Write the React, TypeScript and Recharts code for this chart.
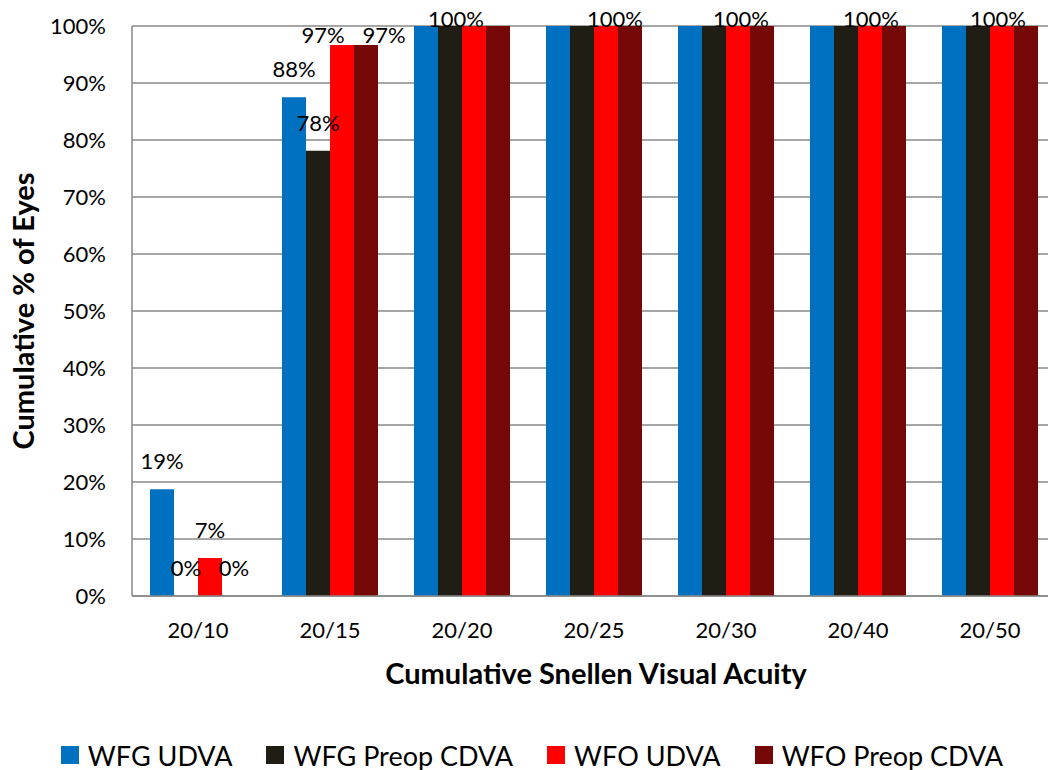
import React from "react";
import { Bar, BarChart, CartesianGrid, Label, Legend, XAxis, YAxis } from "recharts";

const categories = ["20/10", "20/15", "20/20", "20/25", "20/30", "20/40", "20/50"];
const wfgUdva = [18.75, 87.5, 100, 100, 100, 100, 100];
const wfgPreopCdva = [0, 78.1, 100, 100, 100, 100, 100];
const wfoUdva = [6.67, 96.67, 100, 100, 100, 100, 100];
const wfoPreopCdva = [0, 96.67, 100, 100, 100, 100, 100];
const yTicks = [0, 10, 20, 30, 40, 50, 60, 70, 80, 90, 100];

const seriesNames = ["WFG UDVA", "WFG Preop CDVA", "WFO UDVA", "WFO Preop CDVA"];
const seriesKeys = ["wfgUdva", "wfgPreopCdva", "wfoUdva", "wfoPreopCdva"];
const seriesValues = [wfgUdva, wfgPreopCdva, wfoUdva, wfoPreopCdva];
const colors = ["#0070C0", "#1F1D14", "#FF0000", "#760707"];

const data = categories.map((name, i) => ({
  name,
  wfgUdva: wfgUdva[i],
  wfgPreopCdva: wfgPreopCdva[i],
  wfoUdva: wfoUdva[i],
  wfoPreopCdva: wfoPreopCdva[i],
}));

const FONT = "Lato, 'Open Sans', sans-serif";

// hand-placed labels as in the original; the 100% ones are drawn once per group
const labelShift: Record<string, [number, number]> = {
  "2-1": [-19, -2],
  "3-1": [18, -2],
  "1-2": [-6, 1],
  "1-3": [21, 1],
  "1-4": [15, 1],
  "1-5": [13, 1],
  "1-6": [8, 1],
};

// all labels of a group are drawn from the red series, which has no zero bars
// (recharts drops labels of zero-height bars)
const groupLabels = (props: any) => {
  const { x, y, width, height, value, index } = props;
  const base = y + height;
  const pxPerUnit = height / value;
  return (
    <g>
      {seriesValues.map((vals, s) => {
        const v = vals[index];
        if (v >= 100 && s !== 1) return null;
        const top = base - v * pxPerUnit;
        let cx = x + (s - 2) * width + width / 2;
        let by = top - 20;
        if (v >= 100) cx = x + (s - 1) * width;
        const shift = labelShift[`${s}-${index}`];
        if (shift) {
          cx += shift[0];
          by = top + shift[1];
        }
        return (
          <text key={s} x={cx} y={by} textAnchor="middle" fontSize={22} fontFamily={FONT} fill="#000">
            {`${Math.round(v)}%`}
          </text>
        );
      })}
    </g>
  );
};

const renderLegend = () => (
  <div
    style={{
      display: "flex",
      justifyContent: "center",
      alignItems: "center",
      height: 34,
      fontFamily: FONT,
      fontSize: 27,
      color: "#000",
    }}
  >
    {seriesNames.map((n, i) => (
      <div key={n} style={{ display: "flex", alignItems: "center", marginRight: i < 3 ? 34 : 0 }}>
        <span style={{ width: 18, height: 18, background: colors[i], marginRight: 9, display: "inline-block" }} />
        <span>{n}</span>
      </div>
    ))}
  </div>
);

export default function App() {
  return (
    <div style={{ position: "absolute", left: 0, top: 0, width: 1048, height: 770, overflow: "hidden", background: "#fff" }}>
      <BarChart
        width={1064}
        height={770}
        data={data}
        margin={{ top: 26, right: 8, left: 0, bottom: 40 }}
        barGap={0}
        barSize={24}
      >
        <CartesianGrid vertical={false} stroke="#898989" strokeWidth={1.5} />
        <XAxis
          dataKey="name"
          height={100}
          tickLine={false}
          tickSize={0}
          tickMargin={26}
          axisLine={{ stroke: "#898989", strokeWidth: 1.5 }}
          tick={{ fontSize: 22, fontFamily: FONT, fill: "#000" }}
        >
          <Label
            content={(p: any) => {
              const vb = p.viewBox;
              return (
                <text
                  x={vb.x + vb.width / 2 + 2}
                  y={684}
                  textAnchor="middle"
                  fontSize={29}
                  fontWeight="bold"
                  fontFamily={FONT}
                  fill="#000"
                >
                  Cumulative Snellen Visual Acuity
                </text>
              );
            }}
          />
        </XAxis>
        <YAxis
          width={132}
          domain={[0, 100]}
          ticks={yTicks}
          interval={0}
          tickLine={false}
          tickSize={0}
          tickMargin={26}
          axisLine={{ stroke: "#898989", strokeWidth: 1.5 }}
          tickFormatter={(v: number) => `${v}%`}
          tick={{ fontSize: 22, fontFamily: FONT, fill: "#000" }}
        >
          <Label
            content={(p: any) => {
              const vb = p.viewBox;
              const cy = vb.y + vb.height / 2;
              return (
                <text
                  x={22}
                  y={cy}
                  transform={`rotate(-90 22 ${cy})`}
                  textAnchor="middle"
                  dominantBaseline="central"
                  fontSize={29}
                  fontWeight="bold"
                  fontFamily={FONT}
                  fill="#000"
                >
                  Cumulative % of Eyes
                </text>
              );
            }}
          />
        </YAxis>
        <Legend
          verticalAlign="bottom"
          content={renderLegend}
          wrapperStyle={{ top: 738, left: 0, width: 1064 }}
        />
        {seriesKeys.map((k, i) => (
          <Bar
            key={k}
            dataKey={k}
            name={seriesNames[i]}
            fill={colors[i]}
            isAnimationActive={false}
            label={i === 2 ? groupLabels : undefined}
          />
        ))}
      </BarChart>
    </div>
  );
}
